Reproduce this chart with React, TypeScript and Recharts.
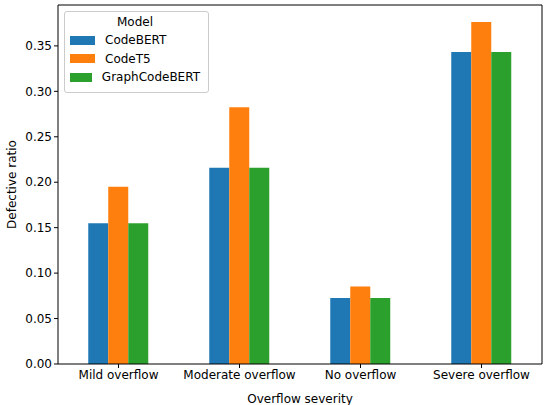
import React from "react";
import {
  BarChart,
  Bar,
  XAxis,
  YAxis,
} from "recharts";

const categories = ["Mild overflow", "Moderate overflow", "No overflow", "Severe overflow"];
const codeBert = [0.155, 0.216, 0.0726, 0.3434];
const codeT5 = [0.195, 0.2824, 0.0854, 0.3764];
const graphCodeBert = [0.155, 0.216, 0.0726, 0.3434];
const yTicks = [0, 0.05, 0.1, 0.15, 0.2, 0.25, 0.3, 0.35];

const models = [
  { key: "CodeBERT", color: "#1f77b4" },
  { key: "CodeT5", color: "#ff7f0e" },
  { key: "GraphCodeBERT", color: "#2ca02c" },
];

const data = categories.map((c, i) => ({
  name: c,
  CodeBERT: codeBert[i],
  CodeT5: codeT5[i],
  GraphCodeBERT: graphCodeBert[i],
}));

const font = "'DejaVu Sans', sans-serif";
const tickStyle = { fontSize: 12, fill: "#000", fontFamily: font };

function ModelLegend() {
  return (
    <div style={{
      position: "absolute",
      top: 11,
      left: 64,
      border: "1px solid #cccccc",
      borderRadius: 3,
      background: "rgba(255,255,255,0.8)",
      padding: "3px 8px 5px 5px",
      fontFamily: font,
      fontSize: 12,
      color: "#000",
      width: 145,
      boxSizing: "border-box",
    }}>
      <div style={{ textAlign: "center", marginBottom: 2 }}>Model</div>
      {models.map(m => (
        <div key={m.key} style={{ display: "flex", alignItems: "center", height: 18.5 }}>
          <span style={{ width: 25, height: 9, background: m.color, display: "inline-block", marginRight: 10 }} />
          {m.key}
        </div>
      ))}
    </div>
  );
}

export default function App() {
  return (
    <div style={{ width: 550, height: 405, background: "#fff", position: "relative" }}>
      <style>{`body{margin:0}`}</style>
      <BarChart
        width={550}
        height={405}
        data={data}
        margin={{ top: 4, right: 7, left: 0, bottom: 0 }}
        barCategoryGap="25%"
        barGap={0}
      >
        <XAxis
          dataKey="name"
          xAxisId="bottom"
          height={41}
          tick={tickStyle}
          tickLine={{ stroke: "#000" }}
          tickSize={4}
          axisLine={{ stroke: "#000" }}
          interval={0}
          label={{ value: "Overflow severity", position: "insideBottom", offset: 2, style: { ...tickStyle } }}
        />
        <XAxis
          dataKey="name"
          xAxisId="top"
          orientation="top"
          height={1}
          tick={false}
          tickLine={false}
          axisLine={{ stroke: "#000" }}
        />
        <YAxis
          yAxisId="left"
          width={58}
          domain={[0, 0.395]}
          ticks={yTicks}
          tickFormatter={(v: number) => v.toFixed(2)}
          tick={tickStyle}
          tickLine={{ stroke: "#000" }}
          tickSize={4}
          axisLine={{ stroke: "#000" }}
          label={{ value: "Defective ratio", angle: -90, position: "insideLeft", offset: 12, style: { ...tickStyle, textAnchor: "middle" } }}
        />
        <YAxis
          yAxisId="right"
          orientation="right"
          width={1}
          domain={[0, 0.395]}
          tick={false}
          tickLine={false}
          axisLine={{ stroke: "#000" }}
        />
        {models.map(m => (
          <Bar
            key={m.key}
            dataKey={m.key}
            xAxisId="bottom"
            yAxisId="left"
            fill={m.color}
            isAnimationActive={false}
          />
        ))}
      </BarChart>
      <ModelLegend />
    </div>
  );
}
